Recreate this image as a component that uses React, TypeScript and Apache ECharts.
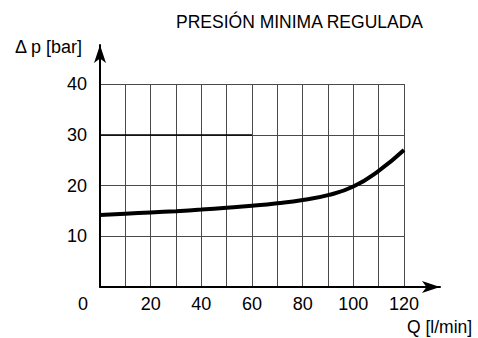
import React, { useEffect, useRef } from "react";
import * as echarts from "echarts";

const flowQ = [0, 10, 20, 30, 40, 50, 60, 70, 80, 90, 100, 110, 120];
const pressureDp = [14.2, 14.45, 14.7, 14.95, 15.25, 15.6, 16.0, 16.5, 17.15, 18.1, 19.8, 22.9, 27];
const xTicks = [20, 40, 60, 80, 100, 120];
const yTicks = [10, 20, 30, 40];
const highlightSegment = [[0, 30], [60, 30]];

const FONT = "Liberation Sans, Arial, sans-serif";

export default function App() {
  const ref = useRef<HTMLDivElement>(null);
  useEffect(() => {
    if (!ref.current) return;
    const chart = echarts.init(ref.current, null, { renderer: "svg" });
    const gridColor = "#4a4a4a";
    chart.setOption({
      animation: false,
      backgroundColor: "#fff",
      textStyle: { fontFamily: FONT },
      title: {
        text: "PRESIÓN MINIMA REGULADA",
        left: 171,
        top: 8,
        textStyle: { fontFamily: FONT, fontSize: 17.5, fontWeight: "normal", color: "#000" },
      },
      grid: [
        { left: 100, right: 74, top: 84, bottom: 51 },
        { left: 100, right: 38, top: 45, bottom: 51 },
      ],
      xAxis: [
        {
          gridIndex: 0,
          type: "value",
          min: 0,
          max: 120,
          interval: 10,
          axisLine: { show: false },
          axisTick: { show: false },
          splitLine: { show: true, lineStyle: { color: gridColor, width: 1 } },
          axisLabel: {
            margin: 8,
            fontSize: 18,
            color: "#000",
            fontFamily: FONT,
            formatter: (v: number) => (xTicks.includes(v) ? String(v) : ""),
          },
        },
        {
          gridIndex: 1,
          type: "value",
          min: 0,
          max: 134,
          axisLine: {
            show: true,
            symbol: ["none", "arrow"],
            symbolSize: [9, 18],
            lineStyle: { color: "#000", width: 2 },
          },
          axisTick: { show: false },
          axisLabel: { show: false },
          splitLine: { show: false },
        },
      ],
      yAxis: [
        {
          gridIndex: 0,
          type: "value",
          min: 0,
          max: 40,
          interval: 10,
          axisLine: { show: false },
          axisTick: { show: false },
          splitLine: { show: true, lineStyle: { color: gridColor, width: 1 } },
          axisLabel: {
            margin: 13,
            fontSize: 18,
            color: "#000",
            fontFamily: FONT,
            formatter: (v: number) => (yTicks.includes(v) ? String(v) : ""),
          },
        },
        {
          gridIndex: 1,
          type: "value",
          min: 0,
          max: 47.6,
          axisLine: {
            show: true,
            symbol: ["none", "arrow"],
            symbolSize: [9, 18],
            lineStyle: { color: "#000", width: 2 },
          },
          axisTick: { show: false },
          axisLabel: { show: false },
          splitLine: { show: false },
        },
      ],
      series: [
        {
          type: "line",
          xAxisIndex: 0,
          yAxisIndex: 0,
          data: flowQ.map((q, i) => [q, pressureDp[i]]),
          smooth: 0.5,
          showSymbol: false,
          lineStyle: { color: "#000", width: 4 },
          markLine: {
            silent: true,
            symbol: ["none", "none"],
            label: { show: false },
            lineStyle: { color: "#000", width: 1.5, type: "solid" },
            data: [[{ coord: highlightSegment[0] }, { coord: highlightSegment[1] }]],
          },
        },
      ],
      graphic: [
        {
          type: "text",
          left: 15,
          top: 38,
          style: { text: "Δ p [bar]", fontSize: 18, fill: "#000", fontFamily: FONT },
        },
        {
          type: "text",
          left: 407,
          top: 318,
          style: { text: "Q [l/min]", fontSize: 17.5, fill: "#000", fontFamily: FONT },
        },
        {
          type: "text",
          left: 78,
          top: 295,
          style: { text: "0", fontSize: 18, fill: "#000", fontFamily: FONT },
        },
      ],
    });
    return () => chart.dispose();
  }, []);
  return (
    <div
      ref={ref}
      style={{ position: "fixed", left: 0, top: 0, width: 478, height: 338 }}
    />
  );
}
